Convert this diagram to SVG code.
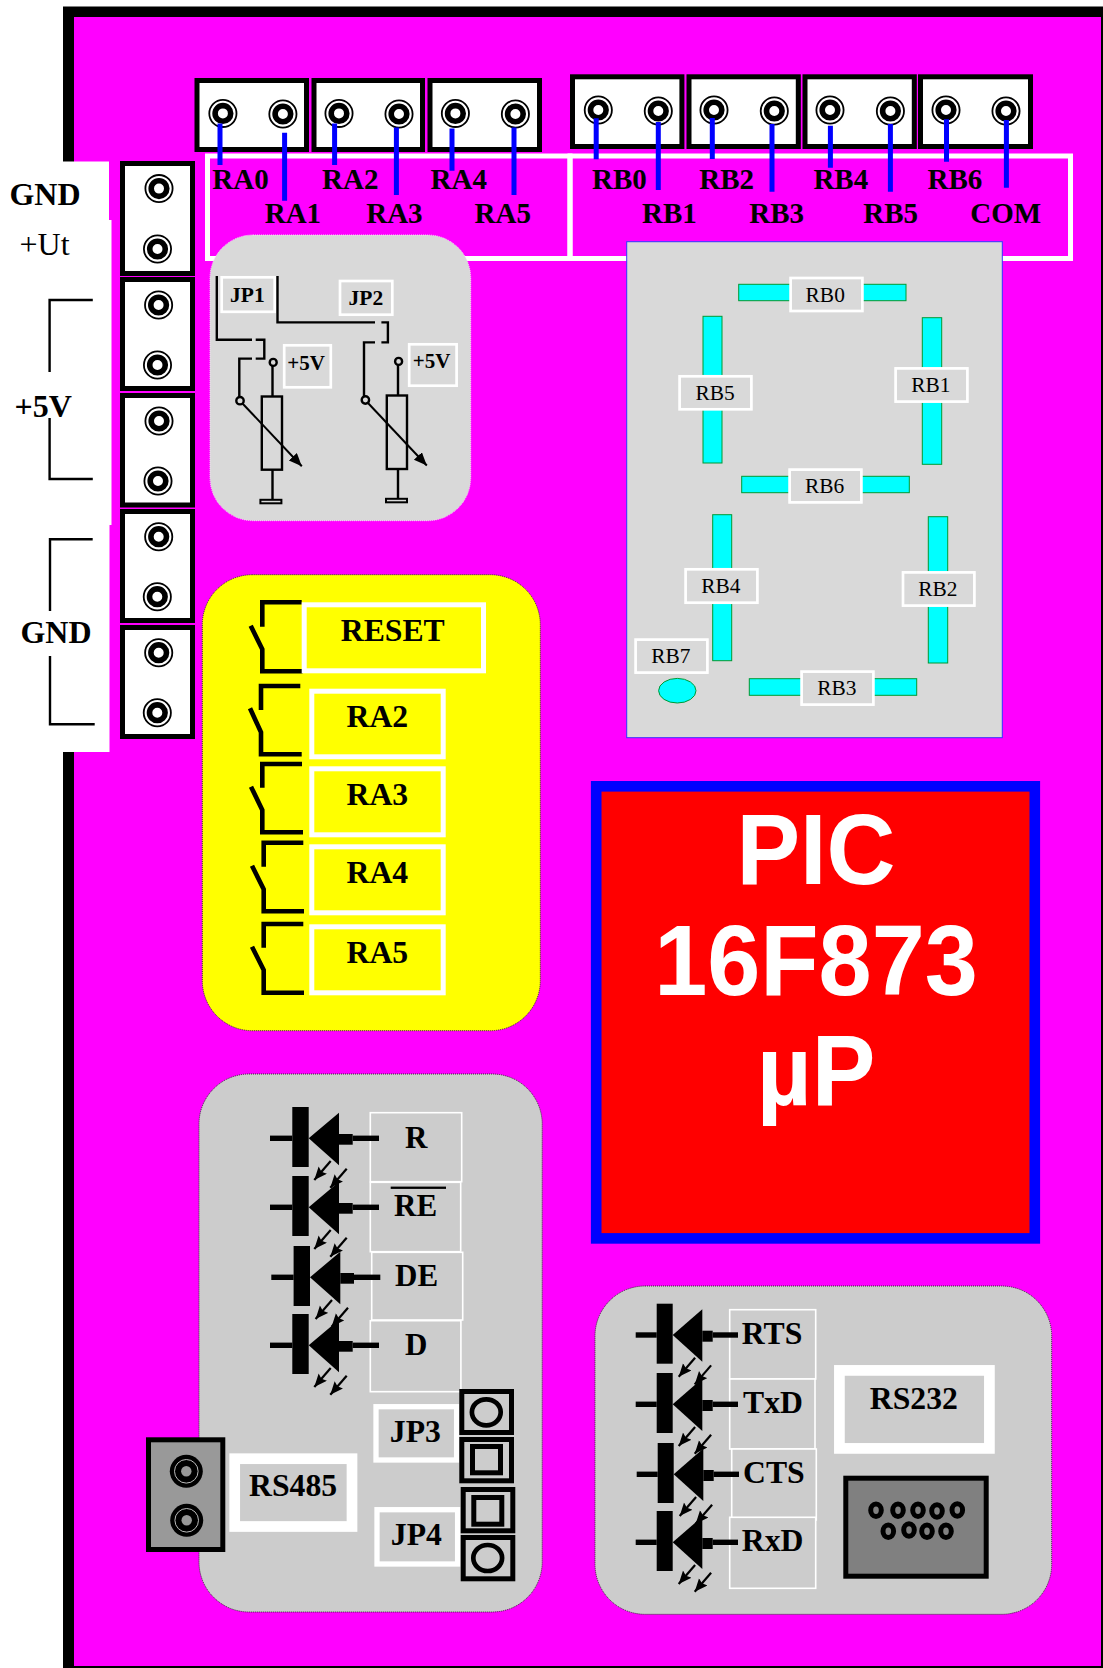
<svg xmlns="http://www.w3.org/2000/svg" width="1103" height="1668" viewBox="0 0 1103 1668">
<style>
text{font-family:"Liberation Serif","Times New Roman",serif;fill:#000}
.b{font-weight:bold}
.s29{font-size:29px}
.s31{font-size:31.7px}
.s30{font-size:31px}
.s32{font-size:32px}
.s21{font-size:21.5px}
.r21{font-size:21.4px}
.pic{font-family:"Liberation Sans",Arial,sans-serif;font-weight:bold;font-size:95.4px;fill:#fff;text-anchor:middle}
.blk{fill:#fff;stroke:#000;stroke-width:5}
.w{fill:none;stroke:#000;stroke-width:2.4}
.tag{fill:#d9d9d9;stroke:#fff;stroke-width:2.7}
.sw{fill:none;stroke:#000;stroke-width:4.6}
.blue{stroke:#00f;stroke-width:5;fill:none}
.seg{fill:#0ff;stroke:#093;stroke-width:1}
.wb{fill:#ff0;stroke:#fff;stroke-width:5}
.thin{fill:#ccc;stroke:#fff;stroke-width:1.6}
.panel{fill:#ccc;stroke:#333;stroke-width:1;stroke-dasharray:1 1}
.tagc{fill:#ccc;stroke:#fff}
.jb{fill:#ccc;stroke:#000;stroke-width:5}
.pin{fill:#808080;stroke:#000;stroke-width:5}
</style>
<defs>
<marker id="ah" markerUnits="userSpaceOnUse" markerWidth="15" markerHeight="13" refX="13" refY="5.5" orient="auto"><path d="M0 0L13 5.5L0 11L2 5.5Z" fill="#000"/></marker>
<marker id="ah2" markerUnits="userSpaceOnUse" markerWidth="16" markerHeight="14" refX="13" refY="5.5" orient="auto"><path d="M0 0L13 5.5L0 11Z" fill="#000"/></marker>
<g id="jack">
<circle r="13.6" fill="#fff" stroke="#000" stroke-width="1.8"/>
<circle r="7.8" fill="#fff" stroke="#000" stroke-width="5.6"/>
</g>
<g id="jackg">
<circle r="16.5" fill="#000"/>
<circle r="11.8" fill="none" stroke="#bbb" stroke-width="1"/>
<circle r="5.2" fill="#999"/>
</g>
<g id="arrows" stroke="#000" stroke-width="2.2" fill="none">
<path d="M38.4 22.7L22 41.7" marker-end="url(#ah)"/>
<path d="M54.4 30.4L38 49.4" marker-end="url(#ah)"/>
</g>
<g id="led">
<rect x="0" y="-31.3" width="16.4" height="60"/>
<rect x="-22.3" y="-2.7" width="22.3" height="5.4"/>
<path d="M16.4 0L46.7-25.6V27Z"/>
<rect x="46.7" y="-4.3" width="13.7" height="10.7"/>
<rect x="60.4" y="-2.7" width="26.3" height="5.4"/>
<use href="#arrows"/>
</g>
<g id="ledb">
<rect x="0" y="-31.3" width="16" height="60"/>
<rect x="-21" y="-2.7" width="21" height="5.4"/>
<path d="M16 0L45.6-25.7V26.7Z"/>
<rect x="45.6" y="-4.3" width="10.4" height="11"/>
<rect x="56" y="-2.7" width="25.3" height="5.4"/>
<use href="#arrows"/>
</g>
</defs>

<g id="board">
<rect x="63" y="6.5" width="1040" height="1661.5" fill="#000"/>
<rect x="74" y="17" width="1027" height="1649" fill="#f0f"/>
</g>
<path id="white-strip" d="M0 161.5H109V220H111.5V525H109.5V752H0Z" fill="#fff"/>

<g id="label-rects" fill="none" stroke="#fff" stroke-width="5">
<rect x="207.5" y="156" width="362.5" height="102.5"/>
<rect x="570" y="156" width="500.5" height="102.5"/>
</g>

<g id="left-terminals">
<rect class="blk" x="122.5" y="163.5" width="70" height="110"/>
<rect class="blk" x="122.5" y="279.5" width="70" height="109"/>
<rect class="blk" x="122.5" y="395.5" width="70" height="109.5"/>
<rect class="blk" x="122.5" y="511.5" width="70" height="109"/>
<rect class="blk" x="122.5" y="627.5" width="70" height="109"/>
<use href="#jack" x="159" y="188.6"/><use href="#jack" x="157.5" y="249"/>
<use href="#jack" x="158.6" y="305"/><use href="#jack" x="157.5" y="365"/>
<use href="#jack" x="159" y="421"/><use href="#jack" x="158" y="481"/>
<use href="#jack" x="158.7" y="536.7"/><use href="#jack" x="157.3" y="596.7"/>
<use href="#jack" x="158.7" y="652.7"/><use href="#jack" x="157.3" y="712.7"/>
</g>
<g id="left-labels">
<text class="b s32" x="9.4" y="205">GND</text>
<text class="s32" x="19.5" y="255">+Ut</text>
<text class="b s32" x="14.6" y="416.5">+5V</text>
<text class="b s32" x="20.4" y="643">GND</text>
<path class="w" d="M92.8 300H49.6V372M49.6 418V479H92.8"/>
<path class="w" d="M92.7 539.3H50V611M50 656V724.3H94.7"/>
</g>

<g id="ra-terminals">
<rect class="blk" x="197" y="80.5" width="109.5" height="69"/>
<rect class="blk" x="314" y="80.5" width="108.5" height="69"/>
<rect class="blk" x="430" y="80.5" width="109.5" height="69"/>
<use href="#jack" x="222.9" y="113.4"/><use href="#jack" x="282.9" y="114"/>
<use href="#jack" x="339" y="113.4"/><use href="#jack" x="399" y="114"/>
<use href="#jack" x="455.4" y="113.4"/><use href="#jack" x="515.4" y="114"/>
</g>
<g id="rb-terminals">
<rect class="blk" x="572.5" y="76.8" width="109.4" height="69.7"/>
<rect class="blk" x="689" y="76.8" width="109.3" height="69.7"/>
<rect class="blk" x="805" y="76.8" width="109.3" height="69.7"/>
<rect class="blk" x="920.5" y="76.8" width="110" height="69.7"/>
<use href="#jack" x="598.3" y="110"/><use href="#jack" x="658.3" y="111"/>
<use href="#jack" x="714" y="110"/><use href="#jack" x="774.3" y="111"/>
<use href="#jack" x="830" y="110"/><use href="#jack" x="890.4" y="111"/>
<use href="#jack" x="946" y="110"/><use href="#jack" x="1006" y="111"/>
</g>
<g id="connectors" class="blue">
<path d="M220 123.4V165M284.6 132.8V200.7M334.6 123.4V165M396.4 127.6V195M452 128.6V170.7M514 127.6V195"/>
<path d="M596.2 118.3V159.3M658.3 122V190M712.3 118V159M772 124V191.7M830.4 125.7V167.7M890.4 124V191.7M946.5 119.3V161.7M1006.4 120V187.7"/>
</g>
<g id="port-labels" class="b s29">
<text x="212.3" y="189">RA0</text><text x="264.7" y="223.4">RA1</text>
<text x="322" y="189">RA2</text><text x="366.2" y="223.4">RA3</text>
<text x="430.5" y="189">RA4</text><text x="474.5" y="223.4">RA5</text>
<text x="592" y="188.7">RB0</text><text x="642" y="222.7">RB1</text>
<text x="699.2" y="188.7">RB2</text><text x="749.2" y="222.7">RB3</text>
<text x="813.4" y="188.7">RB4</text><text x="863.2" y="222.7">RB5</text>
<text x="927.5" y="188.7">RB6</text><text x="970.2" y="222.7">COM</text>
</g>

<g id="pots">
<rect x="210" y="235" width="260.7" height="285.7" rx="43" ry="43" fill="#d9d9d9" stroke="#f8d8f8" stroke-width="1" stroke-dasharray="1 1"/>
<rect class="tag" x="221.7" y="277.3" width="53" height="34.5"/>
<rect class="tag" x="340" y="281" width="52.3" height="33.7"/>
<text class="b s21" x="230" y="302">JP1</text>
<text class="b s21" x="348.6" y="305">JP2</text>
<path class="w" d="M216.8 276V339.7H252M255.7 339.7H264.3V358.6H255.7M252 358.6H239.3V396.5"/>
<path class="w" d="M277.5 276V322.4H375M381.4 322.4H387.9V342.4H381.4M375 342.4H364V396"/>
<rect class="tag" x="284.2" y="345.3" width="46.6" height="42"/>
<rect class="tag" x="409.2" y="344.3" width="47.4" height="41.4"/>
<text class="b" font-size="21" x="287.2" y="369.7">+5V</text>
<text class="b" font-size="21" x="412.7" y="368.3">+5V</text>
<circle class="w" cx="273.2" cy="362.4" r="3.5"/>
<circle class="w" cx="398.6" cy="361.4" r="3.5"/>
<circle class="w" cx="240" cy="400.7" r="3.7"/>
<circle class="w" cx="365.4" cy="400" r="3.7"/>
<path class="w" d="M272.5 366V396.5M272.5 469.7V500M398 365V395.5M398 469V499"/>
<rect class="w" x="261.8" y="396.5" width="20.2" height="73.2"/>
<rect class="w" x="386.8" y="395.5" width="20.2" height="73.5"/>
<rect x="260.4" y="499.8" width="21" height="3.5" fill="#d9d9d9" stroke="#000" stroke-width="2"/>
<rect x="386" y="498.8" width="21" height="3.5" fill="#d9d9d9" stroke="#000" stroke-width="2"/>
<path d="M242.5 403.5L301.8 466.2" fill="none" stroke="#000" stroke-width="2" marker-end="url(#ah2)"/>
<path d="M368 403L426.8 465.5" fill="none" stroke="#000" stroke-width="2" marker-end="url(#ah2)"/>
</g>

<g id="seven-segment">
<rect x="626.7" y="241.7" width="375.6" height="496" fill="#d9d9d9" stroke="#33f" stroke-width="1"/>
<rect class="seg" x="738.7" y="284.3" width="167.3" height="16.4"/>
<rect class="seg" x="922.3" y="317.7" width="19.4" height="146.6"/>
<rect class="seg" x="703" y="316.3" width="19" height="146.7"/>
<rect class="seg" x="741.7" y="476.3" width="167.6" height="16.4"/>
<rect class="seg" x="712.7" y="514.7" width="19" height="146"/>
<rect class="seg" x="928.3" y="516.7" width="19.4" height="146.3"/>
<rect class="seg" x="749.3" y="678.7" width="167.4" height="16.6"/>
<ellipse class="seg" cx="677.3" cy="690.7" rx="18.7" ry="12.3"/>
<rect class="tag" x="790.6" y="278" width="71.8" height="33"/>
<rect class="tag" x="895.6" y="368.4" width="71.8" height="33.2"/>
<rect class="tag" x="679.6" y="376.3" width="71.8" height="33"/>
<rect class="tag" x="789.6" y="469.6" width="71.8" height="32.8"/>
<rect class="tag" x="685.6" y="569.3" width="71.8" height="33.4"/>
<rect class="tag" x="903" y="572.4" width="71.4" height="33.2"/>
<rect class="tag" x="635.6" y="639.6" width="71.8" height="33"/>
<rect class="tag" x="801.6" y="671.6" width="71.8" height="33"/>
<g class="r21">
<text x="805.6" y="302.3">RB0</text>
<text x="911.2" y="392.3">RB1</text>
<text x="695.5" y="400">RB5</text>
<text x="804.9" y="493.3">RB6</text>
<text x="701.2" y="593.3">RB4</text>
<text x="918.2" y="596.3">RB2</text>
<text x="651.3" y="663.3">RB7</text>
<text x="817.2" y="695">RB3</text>
</g>
</g>

<g id="switches">
<rect x="202.3" y="574.7" width="338" height="456" rx="50" ry="50" fill="#ff0" stroke="#333" stroke-width="1" stroke-dasharray="1 1"/>
<path class="sw" d="M262.3 626.7V602.3H301.7M250.7 625.7L262.3 649.3V671.3H302.7"/>
<path class="sw" d="M261 710V686H300.3M250 708.3L261 732.3V754.3H301.7"/>
<path class="sw" d="M262.3 787.7V764H302M251 786.7L262.3 810V832.3H303"/>
<path class="sw" d="M263.7 866.7V842.7H303.3M252 865.7L263.7 889.3V911.3H304"/>
<path class="sw" d="M263.7 947.7V924H303.3M252 946.7L263.7 970V992.7H304"/>
<rect class="wb" x="304.2" y="604.8" width="179.3" height="66"/>
<rect class="wb" x="311.8" y="691.2" width="131.4" height="65.6"/>
<rect class="wb" x="311.8" y="768.8" width="131.4" height="66"/>
<rect class="wb" x="311.8" y="846.8" width="131.4" height="66"/>
<rect class="wb" x="311.8" y="926.8" width="131.4" height="66"/>
<g class="b s31">
<text x="340.8" y="640.7">RESET</text>
<text x="346.5" y="726.7">RA2</text>
<text x="346.5" y="804.7">RA3</text>
<text x="346.5" y="882.7">RA4</text>
<text x="346.5" y="962.7">RA5</text>
</g>
</g>

<g id="pic">
<rect x="596.2" y="786.3" width="438.6" height="452.1" fill="#f00" stroke="#00f" stroke-width="10.6"/>
<text class="pic" transform="translate(816,884.3) scale(1,1.05)">PIC</text>
<text class="pic" transform="translate(816,994.7) scale(1,1.05)">16F873</text>
<text class="pic" transform="translate(816,1105) scale(1,1.05)">µP</text>
</g>

<g id="rs485">
<rect class="panel" x="199" y="1074" width="343.2" height="538" rx="50" ry="50"/>
<rect class="thin" x="370.3" y="1112.7" width="91.4" height="69"/>
<rect class="thin" x="370.3" y="1182.3" width="90.4" height="69.4"/>
<rect class="thin" x="371.7" y="1252.3" width="91" height="67.7"/>
<rect class="thin" x="370.3" y="1320.7" width="90.6" height="71"/>
<use href="#led" x="292.3" y="1138.3"/>
<use href="#led" x="292.3" y="1207.3"/>
<use href="#led" x="293.6" y="1277.3"/>
<use href="#led" x="292.3" y="1345.3"/>
<g class="b s30">
<text x="405" y="1147.7">R</text>
<text x="394" y="1216">RE</text>
<text x="395" y="1286">DE</text>
<text x="405" y="1354.7">D</text>
</g>
<rect x="390.7" y="1186.6" width="55.3" height="2.3" fill="#000"/>
<rect x="234.7" y="1458.7" width="117.3" height="67.8" fill="#ccc" stroke="#fff" stroke-width="10.7"/>
<text class="b s31" x="249.1" y="1496">RS485</text>
<rect x="148.5" y="1439.8" width="74.3" height="109.7" fill="#999" stroke="#000" stroke-width="5"/>
<use href="#jackg" x="186.3" y="1471.3"/>
<use href="#jackg" x="186.7" y="1520.3"/>
<rect class="tagc" stroke-width="5.3" x="376" y="1406.7" width="80.6" height="53.3"/>
<rect class="tagc" stroke-width="5.3" x="377" y="1509.7" width="80.6" height="54.3"/>
<text class="b s31" x="389.8" y="1441.7">JP3</text>
<text class="b s31" x="390.8" y="1545">JP4</text>
<rect class="jb" x="461.8" y="1391.5" width="49.7" height="41"/>
<rect class="jb" x="461.8" y="1439.5" width="49.7" height="41.3"/>
<rect class="jb" x="463.2" y="1489.5" width="49.6" height="41.3"/>
<rect class="jb" x="463.2" y="1537.5" width="49.6" height="41.3"/>
<ellipse cx="486.3" cy="1412.3" rx="14.4" ry="13" fill="none" stroke="#000" stroke-width="4.7"/>
<rect x="472.5" y="1446.5" width="28" height="26.3" fill="none" stroke="#000" stroke-width="5"/>
<rect x="473.8" y="1497.5" width="28" height="26.7" fill="none" stroke="#000" stroke-width="5"/>
<ellipse cx="487.7" cy="1558" rx="14.4" ry="13" fill="none" stroke="#000" stroke-width="4.7"/>
</g>

<g id="rs232">
<rect class="panel" x="595" y="1286" width="456.7" height="328.3" rx="50" ry="50"/>
<rect class="thin" x="729.7" y="1309.7" width="86" height="69.3"/>
<rect class="thin" x="729.7" y="1379" width="85.3" height="70"/>
<rect class="thin" x="731.7" y="1449" width="84.6" height="71"/>
<rect class="thin" x="729.7" y="1517.3" width="86" height="71"/>
<use href="#ledb" x="656.7" y="1335"/>
<use href="#ledb" x="656.7" y="1404.3"/>
<use href="#ledb" x="657.7" y="1474.3"/>
<use href="#ledb" x="656.7" y="1542.3"/>
<g class="b s31">
<text x="741.8" y="1344">RTS</text>
<text x="743" y="1412.7">TxD</text>
<text x="743" y="1482.7">CTS</text>
<text x="741.8" y="1550.7">RxD</text>
</g>
<rect x="839.4" y="1370.4" width="150" height="78" fill="#ccc" stroke="#fff" stroke-width="10.7"/>
<text class="b s31" x="869.8" y="1409">RS232</text>
<rect x="845.8" y="1478.2" width="140.4" height="98" fill="#808080" stroke="#000" stroke-width="5"/>
<g class="pins">
<ellipse class="pin" cx="876" cy="1510.3" rx="5.3" ry="6.2"/>
<ellipse class="pin" cx="898" cy="1510.3" rx="5.3" ry="6.2"/>
<ellipse class="pin" cx="918" cy="1510.3" rx="5.3" ry="6.2"/>
<ellipse class="pin" cx="937" cy="1511" rx="5.3" ry="6.2"/>
<ellipse class="pin" cx="957.3" cy="1510" rx="5.3" ry="6.2"/>
<ellipse class="pin" cx="888.3" cy="1531.3" rx="5.3" ry="6.2"/>
<ellipse class="pin" cx="909" cy="1530" rx="5.3" ry="6.2"/>
<ellipse class="pin" cx="927" cy="1531.3" rx="5.3" ry="6.2"/>
<ellipse class="pin" cx="946" cy="1531.3" rx="5.3" ry="6.2"/>
</g>
</g>
</svg>
